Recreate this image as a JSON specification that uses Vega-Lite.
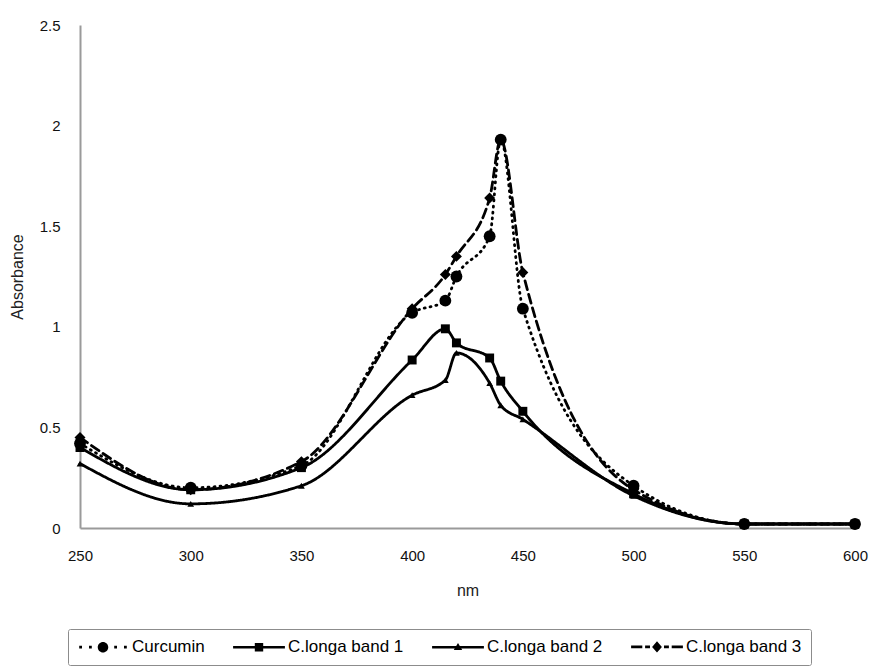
{
  "$schema": "https://vega.github.io/schema/vega-lite/v6.json",
  "width": 775,
  "height": 503,
  "autosize": "none",
  "padding": {"left": 80, "top": 25, "right": 21, "bottom": 138},
  "background": "white",
  "config": {"view": {"stroke": null}, "font": "Liberation Sans"},
  "data": {"values": [
    {"series": "Curcumin", "nm": 250, "abs": 0.42},
    {"series": "Curcumin", "nm": 300, "abs": 0.20},
    {"series": "Curcumin", "nm": 350, "abs": 0.31},
    {"series": "Curcumin", "nm": 400, "abs": 1.07},
    {"series": "Curcumin", "nm": 415, "abs": 1.13},
    {"series": "Curcumin", "nm": 420, "abs": 1.25},
    {"series": "Curcumin", "nm": 435, "abs": 1.45},
    {"series": "Curcumin", "nm": 440, "abs": 1.93},
    {"series": "Curcumin", "nm": 450, "abs": 1.09},
    {"series": "Curcumin", "nm": 500, "abs": 0.21},
    {"series": "Curcumin", "nm": 550, "abs": 0.02},
    {"series": "Curcumin", "nm": 600, "abs": 0.02},
    {"series": "C.longa band 1", "nm": 250, "abs": 0.40},
    {"series": "C.longa band 1", "nm": 300, "abs": 0.19},
    {"series": "C.longa band 1", "nm": 350, "abs": 0.30},
    {"series": "C.longa band 1", "nm": 400, "abs": 0.835},
    {"series": "C.longa band 1", "nm": 415, "abs": 0.99},
    {"series": "C.longa band 1", "nm": 420, "abs": 0.92},
    {"series": "C.longa band 1", "nm": 435, "abs": 0.845},
    {"series": "C.longa band 1", "nm": 440, "abs": 0.73},
    {"series": "C.longa band 1", "nm": 450, "abs": 0.58},
    {"series": "C.longa band 1", "nm": 500, "abs": 0.17},
    {"series": "C.longa band 1", "nm": 550, "abs": 0.02},
    {"series": "C.longa band 1", "nm": 600, "abs": 0.02},
    {"series": "C.longa band 2", "nm": 250, "abs": 0.32},
    {"series": "C.longa band 2", "nm": 300, "abs": 0.12},
    {"series": "C.longa band 2", "nm": 350, "abs": 0.21},
    {"series": "C.longa band 2", "nm": 400, "abs": 0.66},
    {"series": "C.longa band 2", "nm": 415, "abs": 0.735},
    {"series": "C.longa band 2", "nm": 420, "abs": 0.87},
    {"series": "C.longa band 2", "nm": 435, "abs": 0.72},
    {"series": "C.longa band 2", "nm": 440, "abs": 0.61},
    {"series": "C.longa band 2", "nm": 450, "abs": 0.54},
    {"series": "C.longa band 2", "nm": 500, "abs": 0.16},
    {"series": "C.longa band 2", "nm": 550, "abs": 0.02},
    {"series": "C.longa band 2", "nm": 600, "abs": 0.02},
    {"series": "C.longa band 3", "nm": 250, "abs": 0.45},
    {"series": "C.longa band 3", "nm": 300, "abs": 0.19},
    {"series": "C.longa band 3", "nm": 350, "abs": 0.33},
    {"series": "C.longa band 3", "nm": 400, "abs": 1.09},
    {"series": "C.longa band 3", "nm": 415, "abs": 1.26},
    {"series": "C.longa band 3", "nm": 420, "abs": 1.35},
    {"series": "C.longa band 3", "nm": 435, "abs": 1.64},
    {"series": "C.longa band 3", "nm": 440, "abs": 1.93},
    {"series": "C.longa band 3", "nm": 450, "abs": 1.27},
    {"series": "C.longa band 3", "nm": 500, "abs": 0.19},
    {"series": "C.longa band 3", "nm": 550, "abs": 0.02},
    {"series": "C.longa band 3", "nm": 600, "abs": 0.02}
  ]},
  "encoding": {
    "x": {
      "field": "nm", "type": "quantitative",
      "scale": {"domain": [250, 600], "nice": false, "zero": false},
      "axis": {
        "values": [250, 300, 350, 400, 450, 500, 550, 600],
        "grid": false, "ticks": false, "labelFlush": false,
        "domainColor": "#9a9a9a", "domainWidth": 2,
        "labelFontSize": 15, "labelColor": "#111", "labelPadding": 20,
        "titleFontSize": 16, "titleFontWeight": "normal", "titleColor": "#222", "titlePadding": 19
      },
      "title": "nm"
    },
    "y": {
      "field": "abs", "type": "quantitative",
      "scale": {"domain": [0, 2.5], "nice": false},
      "axis": {
        "values": [0, 0.5, 1, 1.5, 2, 2.5], "format": "~g",
        "grid": false, "ticks": false, "labelFlush": false,
        "domainColor": "#9a9a9a", "domainWidth": 2,
        "labelFontSize": 15, "labelColor": "#111", "labelPadding": 20,
        "titleFontSize": 16, "titleFontWeight": "normal", "titleColor": "#222", "titlePadding": 14
      },
      "title": "Absorbance"
    }
  },
  "layer": [
    {
      "mark": {"type": "line", "interpolate": "monotone", "color": "black", "strokeWidth": 2.8, "strokeCap": "round"},
      "encoding": {
        "detail": {"field": "series", "type": "nominal"},
        "strokeDash": {
          "field": "series", "type": "nominal",
          "scale": {"domain": ["Curcumin", "C.longa band 1", "C.longa band 2", "C.longa band 3"], "range": [[1, 5], [1, 0], [1, 0], [9, 5]]},
          "legend": null
        }
      }
    },
    {
      "mark": {"type": "point", "filled": true, "color": "black", "opacity": 1},
      "encoding": {
        "shape": {
          "field": "series", "type": "nominal",
          "scale": {"domain": ["Curcumin", "C.longa band 1", "C.longa band 2", "C.longa band 3"], "range": ["circle", "square", "triangle-up", "diamond"]},
          "legend": null
        },
        "size": {
          "field": "series", "type": "ordinal",
          "scale": {"type": "ordinal", "domain": ["Curcumin", "C.longa band 1", "C.longa band 2", "C.longa band 3"], "range": [140, 80, 45, 120]},
          "legend": null
        }
      }
    },
    {
      "transform": [{"filter": "false"}],
      "mark": {"type": "point", "filled": true, "color": "black", "opacity": 1},
      "encoding": {
        "shape": {
          "field": "series", "type": "nominal",
          "scale": {
            "domain": ["Curcumin", "C.longa band 1", "C.longa band 2", "C.longa band 3"],
            "range": [
              "M-0.9,-0.2L-0.5,-0.2L-0.5,0.2L-0.9,0.2ZM0.5,-0.2L0.9,-0.2L0.9,0.2L0.5,0.2ZM1.75,0A0.75,0.75 0 1,0 3.25,0A0.75,0.75 0 1,0 1.75,0ZM4.1,-0.2L4.5,-0.2L4.5,0.2L4.1,0.2ZM5.5,-0.2L5.9,-0.2L5.9,0.2L5.5,0.2Z",
              "M-1.2,-0.19L6.2,-0.19L6.2,0.19L-1.2,0.19ZM1.9,-0.6L3.1,-0.6L3.1,0.6L1.9,0.6Z",
              "M-1.2,-0.19L6.2,-0.19L6.2,0.19L-1.2,0.19ZM2.5,-0.6L3.1,0.4L1.9,0.4Z",
              "M-1.2,-0.19L0.4,-0.19L0.4,0.19L-1.2,0.19ZM0.8,-0.19L1.5,-0.19L1.5,0.19L0.8,0.19ZM2.5,-0.8L3.2,0L2.5,0.8L1.8,0ZM3.5,-0.19L4.2,-0.19L4.2,0.19L3.5,0.19ZM4.6,-0.19L6.2,-0.19L6.2,0.19L4.6,0.19Z"
            ]
          },
          "legend": {
            "orient": "none", "legendX": -12, "legendY": 604,
            "direction": "horizontal", "columns": 4, "title": null,
            "strokeColor": "#8c8c8c", "padding": 9, "cornerRadius": 2,
            "symbolSize": 196,
            "labelOffset": 38, "labelFontSize": 17, "labelColor": "black", "labelLimit": 300,
            "columnPadding": 25,
            "encode": {
              "symbols": {
                "update": {
                  "fill": {"value": "black"},
                  "opacity": {"value": 1}
                }
              }
            }
          }
        }
      }
    }
  ],
  "resolve": {"scale": {"shape": "independent", "size": "independent"}}
}
